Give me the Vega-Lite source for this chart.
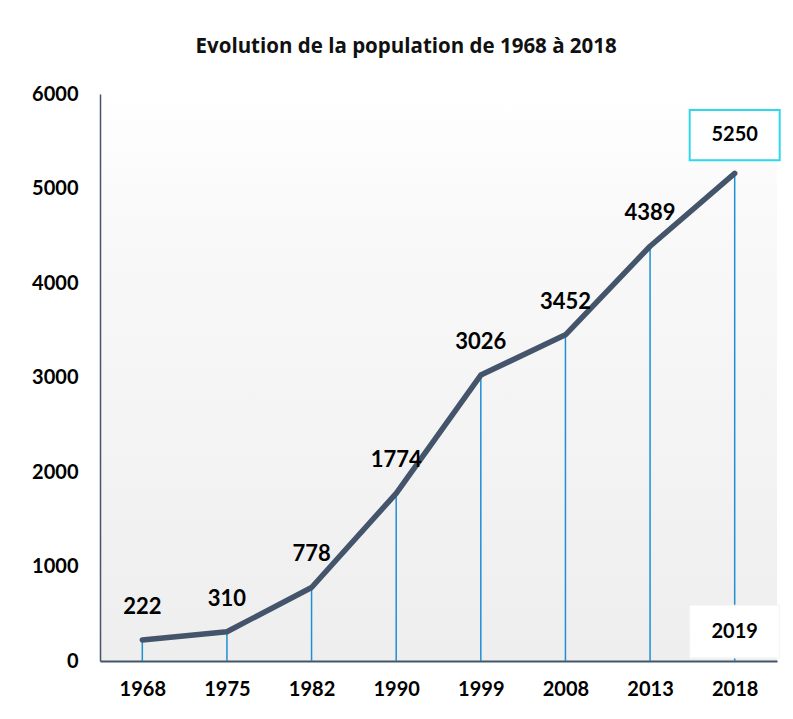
{
  "$schema": "https://vega.github.io/schema/vega-lite/v6.json",
  "width": 677,
  "height": 567,
  "autosize": {"type": "none"},
  "padding": {"left": 100, "top": 94, "right": 16, "bottom": 58},
  "background": "white",
  "title": {
    "text": "Evolution de la population de 1968 à 2018",
    "font": "Open Sans",
    "fontSize": 20.5,
    "fontWeight": "bold",
    "color": "#111111",
    "anchor": "middle",
    "frame": "bounds",
    "offset": 27
  },
  "datasets": {
    "pop": [
      {"annee": "1968", "population": 222, "label": "222"},
      {"annee": "1975", "population": 310, "label": "310"},
      {"annee": "1982", "population": 778, "label": "778"},
      {"annee": "1990", "population": 1774, "label": "1774"},
      {"annee": "1999", "population": 3026, "label": "3026"},
      {"annee": "2008", "population": 3452, "label": "3452"},
      {"annee": "2013", "population": 4389, "label": "4389"},
      {"annee": "2018", "population": 5160, "label": ""}
    ],
    "boxes": [
      {"annee": "2018", "y1": 5300, "y2": 5830, "ymid": 5565, "texte": "5250", "bord": "cyan"},
      {"annee": "2018", "y1": 32, "y2": 590, "ymid": 311, "texte": "2019", "bord": "none"}
    ]
  },
  "encoding": {
    "x": {
      "field": "annee",
      "type": "ordinal",
      "scale": {"type": "point", "padding": 0.5},
      "axis": {
        "title": null,
        "labelAngle": 0,
        "labelFont": "Lato",
        "labelFontSize": 20,
        "labelFontWeight": "bold",
        "labelColor": "#000000",
        "labelPadding": 18,
        "ticks": false,
        "domainColor": "#44546A",
        "domainWidth": 2,
        "grid": false
      }
    }
  },
  "layer": [
    {
      "data": {"name": "pop"},
      "mark": {"type": "rule", "color": "#1E8FD2", "strokeWidth": 1.5},
      "encoding": {
        "y": {
          "field": "population",
          "type": "quantitative",
          "scale": {"domain": [0, 6000]},
          "axis": {
            "title": null,
            "values": [0, 1000, 2000, 3000, 4000, 5000, 6000],
            "format": "d",
            "labelFont": "Lato",
            "labelFontSize": 20,
            "labelFontWeight": "bold",
            "labelColor": "#000000",
            "labelPadding": 22,
            "ticks": false,
            "domainColor": "#44546A",
            "domainWidth": 1.5,
            "grid": false
          }
        },
        "y2": {"datum": 0}
      }
    },
    {
      "data": {"name": "boxes"},
      "transform": [{"filter": "datum.bord == 'none'"}],
      "mark": {"type": "bar", "width": 90, "fill": "white", "stroke": "#F4F4F4", "strokeWidth": 1},
      "encoding": {
        "y": {"field": "y1", "type": "quantitative"},
        "y2": {"field": "y2"}
      }
    },
    {
      "data": {"name": "pop"},
      "mark": {"type": "line", "color": "#44546A", "strokeWidth": 5.5, "strokeCap": "round", "strokeJoin": "round"},
      "encoding": {
        "y": {"field": "population", "type": "quantitative"}
      }
    },
    {
      "data": {"name": "pop"},
      "mark": {"type": "text", "font": "Lato", "fontSize": 22, "fontWeight": "bold", "color": "#000000", "dy": -33, "baseline": "middle"},
      "encoding": {
        "y": {"field": "population", "type": "quantitative"},
        "text": {"field": "label"}
      }
    },
    {
      "data": {"name": "boxes"},
      "transform": [{"filter": "datum.bord == 'cyan'"}],
      "mark": {"type": "bar", "width": 90, "fill": "white", "stroke": "#2ED8EC", "strokeWidth": 2},
      "encoding": {
        "y": {"field": "y1", "type": "quantitative"},
        "y2": {"field": "y2"}
      }
    },
    {
      "data": {"name": "boxes"},
      "mark": {"type": "text", "font": "Lato", "fontSize": 20, "fontWeight": "bold", "color": "#000000", "baseline": "middle"},
      "encoding": {
        "y": {"field": "ymid", "type": "quantitative"},
        "text": {"field": "texte"}
      }
    }
  ],
  "config": {
    "view": {
      "stroke": null,
      "fill": {
        "gradient": "linear",
        "x1": 0, "y1": 0, "x2": 0, "y2": 1,
        "stops": [
          {"offset": 0, "color": "#FFFFFF"},
          {"offset": 0.22, "color": "#F9F9F9"},
          {"offset": 1, "color": "#EEEEEE"}
        ]
      }
    }
  }
}
